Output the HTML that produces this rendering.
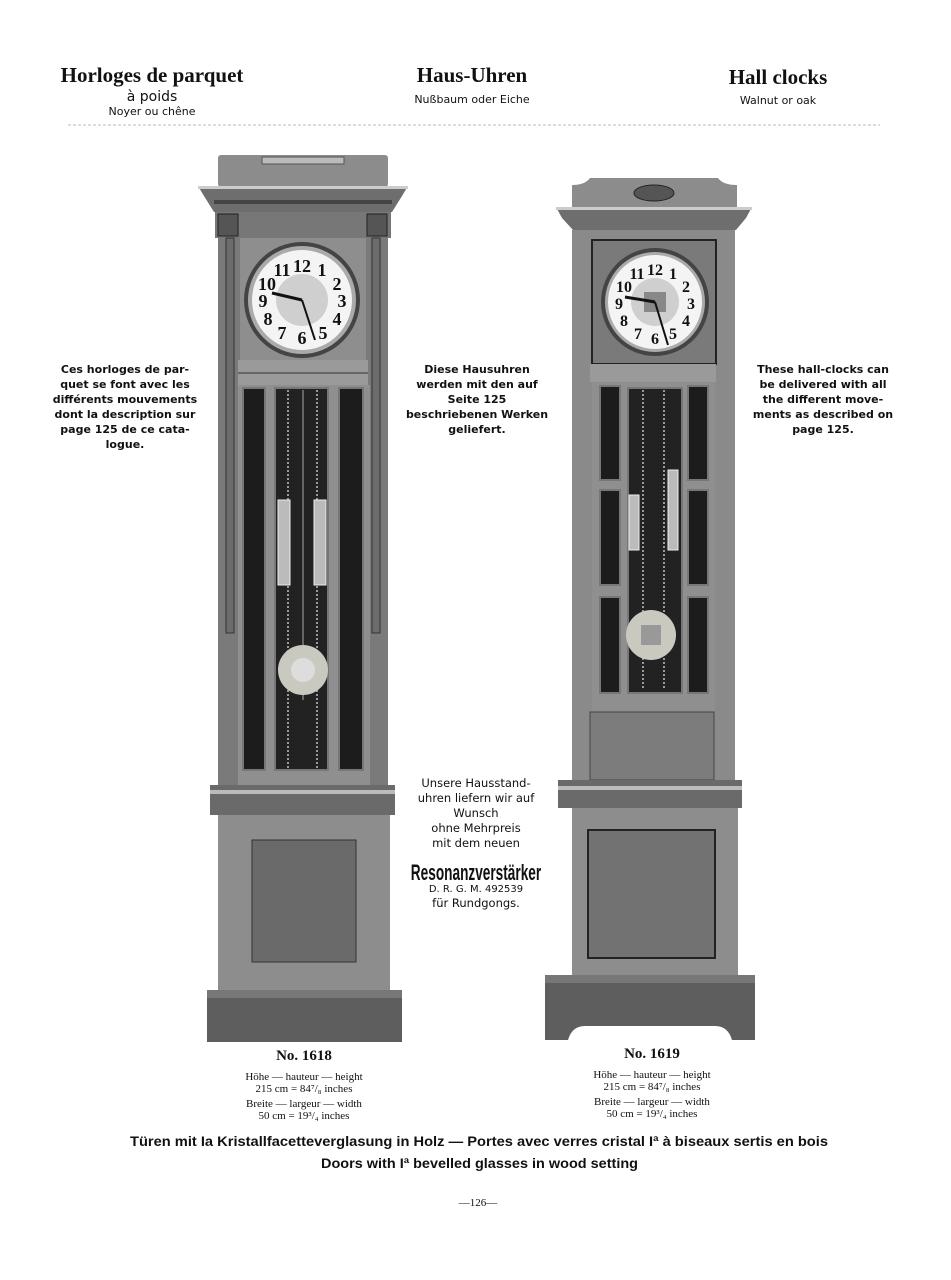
<!DOCTYPE html>
<html><head><meta charset="utf-8"><style>
body{margin:0;background:#fff}
svg{display:block}
text{font-family:"Liberation Serif",serif;fill:#111}
.s{font-family:"DejaVu Sans","Liberation Sans",sans-serif}
</style></head><body>
<svg width="951" height="1280" viewBox="0 0 951 1280" xmlns="http://www.w3.org/2000/svg">
<!-- header -->
<text x="152" y="82" font-size="21" text-anchor="middle" font-weight="bold" font-family="Liberation Sans">Horloges de parquet</text>
<text x="152" y="101" font-size="14" text-anchor="middle" class="s">à poids</text>
<text x="152" y="115" font-size="11" text-anchor="middle" class="s">Noyer ou chêne</text>
<text x="472" y="82" font-size="21" text-anchor="middle" font-weight="bold" font-family="Liberation Sans">Haus-Uhren</text>
<text x="472" y="103" font-size="11" text-anchor="middle" class="s">Nußbaum oder Eiche</text>
<text x="778" y="84" font-size="21" text-anchor="middle" font-weight="bold" font-family="Liberation Sans">Hall clocks</text>
<text x="778" y="104" font-size="11" text-anchor="middle" class="s">Walnut or oak</text>
<line x1="68" y1="125" x2="880" y2="125" stroke="#bbb" stroke-width="1" stroke-dasharray="3,2"/>

<!-- side texts -->
<g font-size="11" class="s" font-weight="bold">
<text x="125" y="373" text-anchor="middle" class="s">Ces horloges de par-</text>
<text x="125" y="388" text-anchor="middle" class="s">quet se font avec les</text>
<text x="125" y="403" text-anchor="middle" class="s">différents mouvements</text>
<text x="125" y="418" text-anchor="middle" class="s">dont la description sur</text>
<text x="125" y="433" text-anchor="middle" class="s">page 125 de ce cata-</text>
<text x="125" y="448" text-anchor="middle" class="s">logue.</text>
<text x="477" y="373" text-anchor="middle" class="s">Diese Hausuhren</text>
<text x="477" y="388" text-anchor="middle" class="s">werden mit den auf</text>
<text x="477" y="403" text-anchor="middle" class="s">Seite 125</text>
<text x="477" y="418" text-anchor="middle" class="s">beschriebenen Werken</text>
<text x="477" y="433" text-anchor="middle" class="s">geliefert.</text>
<text x="823" y="373" text-anchor="middle" class="s">These hall-clocks can</text>
<text x="823" y="388" text-anchor="middle" class="s">be delivered with all</text>
<text x="823" y="403" text-anchor="middle" class="s">the different move-</text>
<text x="823" y="418" text-anchor="middle" class="s">ments as described on</text>
<text x="823" y="433" text-anchor="middle" class="s">page 125.</text>
</g>
<g font-size="11.5" class="s">
<text x="476" y="787" text-anchor="middle" class="s">Unsere Hausstand-</text>
<text x="476" y="802" text-anchor="middle" class="s">uhren liefern wir auf</text>
<text x="476" y="817" text-anchor="middle" class="s">Wunsch</text>
<text x="476" y="832" text-anchor="middle" class="s">ohne Mehrpreis</text>
<text x="476" y="847" text-anchor="middle" class="s">mit dem neuen</text>
<text x="476" y="880" text-anchor="middle" font-size="22" font-weight="bold" transform="translate(476,0) scale(0.62,1) translate(-476,0)" style="font-family:'Liberation Sans Narrow','Liberation Sans',sans-serif">Resonanzverstärker</text>
<text x="476" y="892" text-anchor="middle" font-size="10" class="s">D. R. G. M. 492539</text>
<text x="476" y="907" text-anchor="middle" class="s">für Rundgongs.</text>
</g>

<!-- CLOCK 1618 -->
<g>
<rect x="218" y="155" width="170" height="32" rx="3" fill="#8c8c8c"/>
<rect x="262" y="157" width="82" height="7" fill="#bbb" stroke="#555" stroke-width="1"/>
<polygon points="198,186 408,186 402,196 392,212 214,212 204,196" fill="#6e6e6e"/>
<rect x="198" y="186" width="210" height="3" fill="#ccc"/>
<rect x="214" y="200" width="178" height="4" fill="#444"/>
<rect x="215" y="212" width="176" height="26" fill="#777"/>
<rect x="218" y="214" width="20" height="22" fill="#555" stroke="#222"/>
<rect x="367" y="214" width="20" height="22" fill="#555" stroke="#222"/>
<rect x="218" y="238" width="170" height="562" fill="#8a8a8a"/>
<rect x="218" y="238" width="22" height="562" fill="#7a7a7a"/>
<rect x="366" y="238" width="22" height="562" fill="#7a7a7a"/>
<rect x="226" y="238" width="8" height="395" fill="#6c6c6c" stroke="#333" stroke-width="1"/>
<rect x="372" y="238" width="8" height="395" fill="#6c6c6c" stroke="#333" stroke-width="1"/>
<rect x="240" y="238" width="126" height="122" fill="#8e8e8e"/>
<circle cx="302" cy="300" r="58" fill="#444"/>
<circle cx="302" cy="300" r="54" fill="#aaa"/>
<circle cx="302" cy="300" r="50" fill="#f4f4f4"/>
<circle cx="302" cy="300" r="26" fill="#cfcfcf"/>
<g font-size="18" text-anchor="middle" font-family="Liberation Serif" font-weight="bold">
<text x="302" y="272">12</text><text x="322" y="276">1</text><text x="337" y="290">2</text><text x="342" y="307">3</text><text x="337" y="325">4</text><text x="323" y="339">5</text><text x="302" y="344">6</text><text x="282" y="339">7</text><text x="268" y="325">8</text><text x="263" y="307">9</text><text x="267" y="290">10</text><text x="282" y="276">11</text>
</g>
<line x1="302" y1="300" x2="272" y2="293" stroke="#111" stroke-width="3"/>
<line x1="302" y1="300" x2="315" y2="340" stroke="#111" stroke-width="2"/>
<rect x="238" y="360" width="130" height="25" fill="#9a9a9a"/>
<rect x="238" y="372" width="130" height="2" fill="#666"/>
<rect x="238" y="385" width="132" height="400" fill="#8f8f8f"/>
<rect x="243" y="388" width="22" height="382" fill="#1c1c1c" stroke="#777" stroke-width="2"/>
<rect x="275" y="388" width="53" height="382" fill="#222" stroke="#777" stroke-width="2"/>
<rect x="339" y="388" width="24" height="382" fill="#1c1c1c" stroke="#777" stroke-width="2"/>
<line x1="288" y1="390" x2="288" y2="768" stroke="#999" stroke-width="2" stroke-dasharray="2,2"/>
<line x1="317" y1="390" x2="317" y2="768" stroke="#999" stroke-width="2" stroke-dasharray="2,2"/>
<line x1="303" y1="390" x2="303" y2="700" stroke="#666" stroke-width="2"/>
<rect x="278" y="500" width="12" height="85" fill="#bbb" stroke="#eee"/>
<rect x="314" y="500" width="12" height="85" fill="#bbb" stroke="#eee"/>
<circle cx="303" cy="670" r="25" fill="#c9c9c0"/>
<circle cx="303" cy="670" r="12" fill="#ddd"/>
<rect x="210" y="785" width="185" height="30" fill="#6a6a6a"/>
<rect x="210" y="790" width="185" height="4" fill="#bbb"/>
<rect x="218" y="815" width="172" height="175" fill="#8d8d8d"/>
<rect x="252" y="840" width="104" height="122" fill="#6a6a6a" stroke="#333"/>
<rect x="207" y="990" width="195" height="52" fill="#5e5e5e"/>
<rect x="207" y="990" width="195" height="8" fill="#777"/>
</g>

<!-- CLOCK 1619 -->
<g>
<path d="M572,208 V185 Q585,185 590,178 H718 Q723,185 737,185 V208 Z" fill="#8c8c8c"/>
<ellipse cx="654" cy="193" rx="20" ry="8" fill="#555" stroke="#222"/>
<polygon points="556,207 752,207 746,218 736,230 573,230 562,218" fill="#6e6e6e"/>
<rect x="556" y="207" width="196" height="3" fill="#ccc"/>
<rect x="572" y="230" width="163" height="570" fill="#8a8a8a"/>
<rect x="592" y="240" width="124" height="124" fill="#7a7a7a" stroke="#222" stroke-width="2"/>
<circle cx="655" cy="302" r="54" fill="#444"/>
<circle cx="655" cy="302" r="50" fill="#aaa"/>
<circle cx="655" cy="302" r="47" fill="#f4f4f4"/>
<circle cx="655" cy="302" r="24" fill="#cfcfcf"/>
<rect x="644" y="292" width="22" height="20" fill="#888"/>
<g font-size="16" text-anchor="middle" font-family="Liberation Sans" font-weight="bold">
<text x="655" y="275">12</text><text x="673" y="279">1</text><text x="686" y="292">2</text><text x="691" y="309">3</text><text x="686" y="326">4</text><text x="673" y="339">5</text><text x="655" y="344">6</text><text x="638" y="339">7</text><text x="624" y="326">8</text><text x="619" y="309">9</text><text x="624" y="292">10</text><text x="637" y="279">11</text>
</g>
<line x1="655" y1="302" x2="625" y2="297" stroke="#111" stroke-width="3"/>
<line x1="655" y1="302" x2="668" y2="345" stroke="#111" stroke-width="2"/>
<rect x="590" y="364" width="126" height="18" fill="#9a9a9a"/>
<rect x="592" y="382" width="123" height="330" fill="#8f8f8f"/>
<rect x="600" y="386" width="20" height="94" fill="#1c1c1c" stroke="#777" stroke-width="2"/>
<rect x="600" y="490" width="20" height="95" fill="#1c1c1c" stroke="#777" stroke-width="2"/>
<rect x="600" y="597" width="20" height="96" fill="#1c1c1c" stroke="#777" stroke-width="2"/>
<rect x="688" y="386" width="20" height="94" fill="#1c1c1c" stroke="#777" stroke-width="2"/>
<rect x="688" y="490" width="20" height="95" fill="#1c1c1c" stroke="#777" stroke-width="2"/>
<rect x="688" y="597" width="20" height="96" fill="#1c1c1c" stroke="#777" stroke-width="2"/>
<rect x="628" y="388" width="54" height="305" fill="#222" stroke="#777" stroke-width="2"/>
<line x1="643" y1="390" x2="643" y2="690" stroke="#999" stroke-width="2" stroke-dasharray="2,2"/>
<line x1="664" y1="390" x2="664" y2="690" stroke="#999" stroke-width="2" stroke-dasharray="2,2"/>
<rect x="629" y="495" width="10" height="55" fill="#bbb" stroke="#eee"/>
<rect x="668" y="470" width="10" height="80" fill="#bbb" stroke="#eee"/>
<circle cx="651" cy="635" r="25" fill="#c9c9c0"/>
<rect x="641" y="625" width="20" height="20" fill="#999"/>
<rect x="590" y="712" width="124" height="68" fill="#7c7c7c" stroke="#444"/>
<rect x="558" y="780" width="184" height="28" fill="#6a6a6a"/>
<rect x="558" y="786" width="184" height="4" fill="#bbb"/>
<rect x="572" y="808" width="166" height="167" fill="#8d8d8d"/>
<rect x="588" y="830" width="127" height="128" fill="#727272" stroke="#222" stroke-width="2"/>
<path d="M545,975 H755 V1040 H732 Q728,1026 715,1026 H585 Q572,1026 568,1040 H545 Z" fill="#5e5e5e"/>
<rect x="545" y="975" width="210" height="8" fill="#777"/>
</g>

<!-- captions -->
<text x="304" y="1060" font-size="15" text-anchor="middle" font-weight="bold">No. 1618</text>
<g font-size="11" text-anchor="middle">
<text x="304" y="1080">Höhe — hauteur — height</text>
<text x="304" y="1092">215 cm = 84⁷/₈ inches</text>
<text x="304" y="1107">Breite — largeur — width</text>
<text x="304" y="1119">50 cm = 19³/₄ inches</text>
<text x="652" y="1078">Höhe — hauteur — height</text>
<text x="652" y="1090">215 cm = 84⁷/₈ inches</text>
<text x="652" y="1105">Breite — largeur — width</text>
<text x="652" y="1117">50 cm = 19³/₄ inches</text>
</g>
<text x="652" y="1058" font-size="15" text-anchor="middle" font-weight="bold">No. 1619</text>
<text x="130" y="1146" font-size="14" textLength="698" lengthAdjust="spacingAndGlyphs" style="font-family:'Liberation Sans',sans-serif;font-weight:bold">Türen mit Ia Kristallfacetteverglasung in Holz — Portes avec verres cristal Iª à biseaux sertis en bois</text>
<text x="321" y="1168" font-size="14" textLength="317" lengthAdjust="spacingAndGlyphs" style="font-family:'Liberation Sans',sans-serif;font-weight:bold">Doors with Iª bevelled glasses in wood setting</text>
<text x="478" y="1206" font-size="11" text-anchor="middle">—126—</text>
</svg>
</body></html>
